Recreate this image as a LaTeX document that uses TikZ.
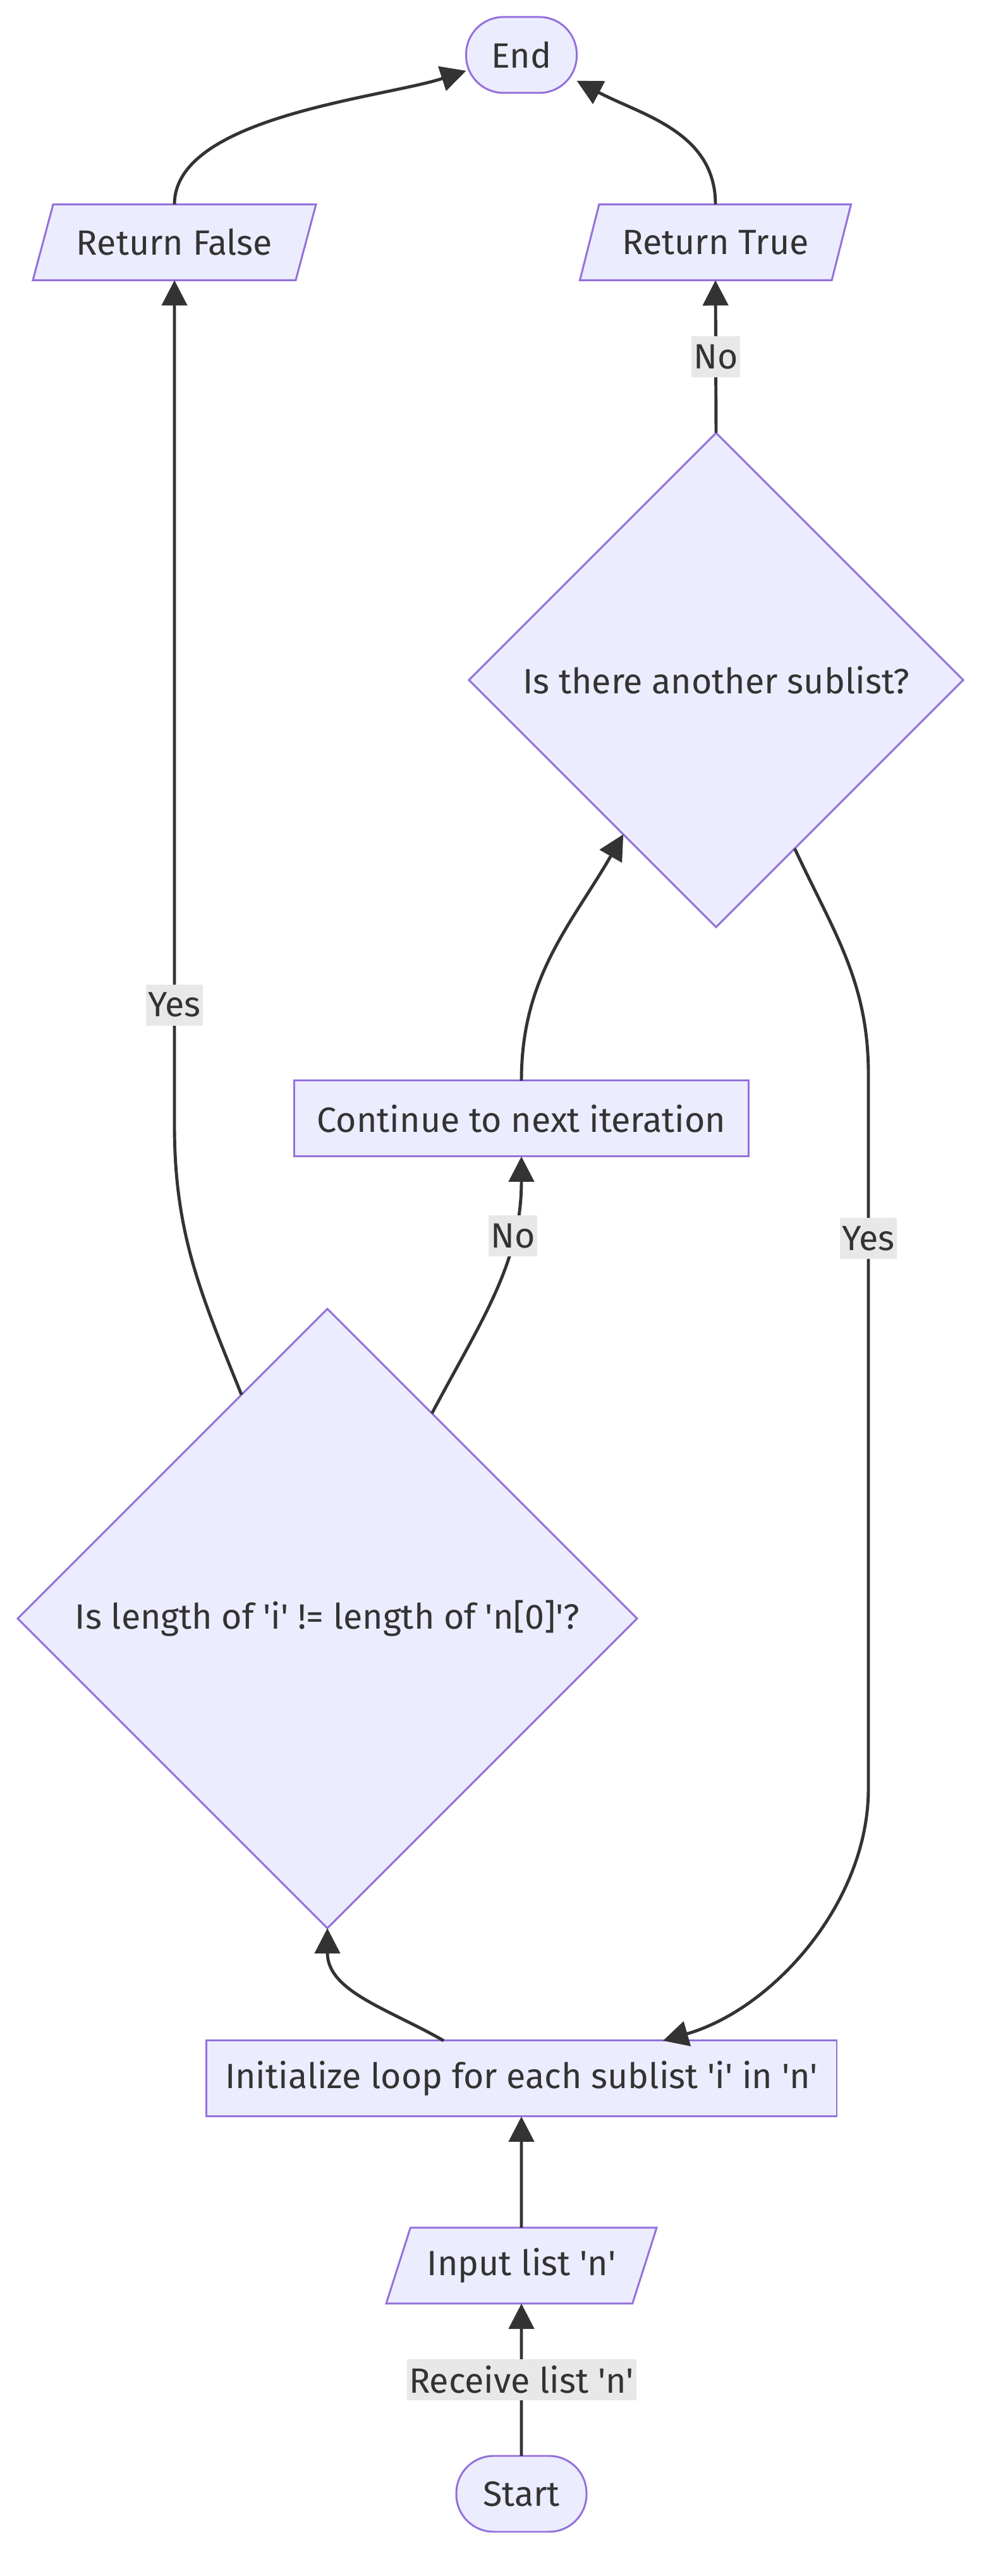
\documentclass[tikz,border=0pt]{standalone}
\usepackage{fontspec}
\setmainfont{Fira Sans}
\usepackage{tikz}
\usetikzlibrary{arrows.meta,positioning,shapes.geometric}
\definecolor{boxfill}{HTML}{ECECFF}
\definecolor{boxline}{HTML}{9370DB}
\definecolor{ink}{HTML}{333333}
\definecolor{lblfill}{HTML}{E8E8E8}
\newcommand{\ap}{\textquotesingle}

\begin{document}
\begin{tikzpicture}[->, >={Triangle[length=4mm,width=4mm]}, color=ink, line width=1.4pt]
\tikzstyle{every node} = [font=\fontsize{15.8}{19}\selectfont, text=ink, line width=0.85pt, outer sep=0pt]
\tikzset{
  box/.style={rectangle, fill=boxfill, draw=boxline, minimum height=1.2cm, inner xsep=0.3cm},
  term/.style={box, rounded corners=0.59cm},
  io/.style={trapezium, trapezium left angle=64, trapezium right angle=116, trapezium stretches body, fill=boxfill, draw=boxline, minimum height=1.2cm},
  ask/.style={diamond, aspect=1, fill=boxfill, draw=boxline, inner sep=0pt},
  lbl/.style={fill=lblfill, inner xsep=1pt, inner ysep=0pt, minimum height=0.65cm}
}
\useasboundingbox (0,0) rectangle (15.68,40.76);
% nodes
\node[term, minimum width=2.06cm] (start) at (8.25,1.30) {Start};
\node[io, minimum width=4.28cm] (inp) at (8.25,4.91) {Input list \ap n\ap};
\node[box, minimum width=9.91cm] (init) at (8.25,7.87) {Initialize loop for each sublist \ap i\ap{} in \ap n\ap};
\node[ask, minimum size=9.8cm] (len) at (5.18,15.15) {Is length of \ap i\ap{} != length of \ap n[0]\ap?};
\node[box, minimum width=7.19cm] (cont) at (8.25,23.06) {Continue to next iteration};
\node[ask, minimum size=7.82cm] (more) at (11.33,30.00) {Is there another sublist?};
\node[io, minimum width=4.48cm] (rf) at (2.76,36.925) {Return False};
\node[io, minimum width=4.29cm] (rt) at (11.32,36.925) {Return True};
\node[term, minimum width=1.75cm] (stop) at (8.25,39.89) {End};
\coordinate (yl) at (2.76,22.96);
\coordinate (yr1) at (13.74,23.76);
\coordinate (yr2) at (13.74,12.46);
% edges
\path (start) edge node[lbl]{Receive list \ap n\ap} (inp)
(inp) edge (init)
(init.154) edge[out=150, in=-90] (len.south)
(len.63) edge[out=62, in=-90] node[lbl, pos=0.72]{No} (cont.south)
(cont.north) edge[out=90, in=240] (more.239)
(more.north) edge node[lbl]{No} (rt.south)
(rf.north) edge[out=90, in=198, looseness=0.7] (stop.196)
(rt.north) edge[out=90, in=332] (stop.335);
\draw (len.111) to[out=112, in=-90] (yl) -- node[lbl, pos=0.142]{Yes} (rf.south);
\draw (more.295) to[out=-65, in=90] (yr1) -- node[lbl, pos=0.23]{Yes} (yr2) to[out=-90, in=16, looseness=0.9] (init.15);
\end{tikzpicture}
\end{document}
